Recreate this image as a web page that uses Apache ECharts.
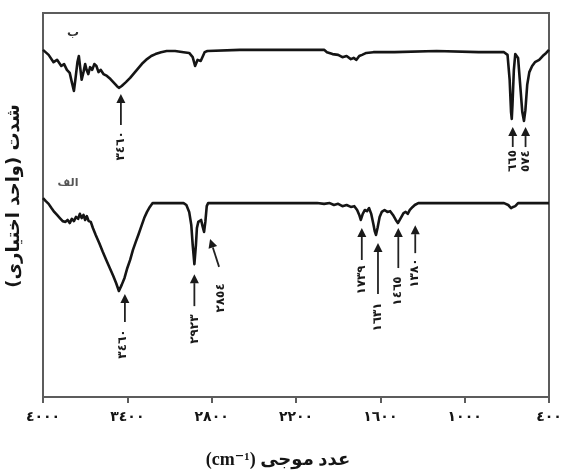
<!DOCTYPE html>
<html>
<head>
<meta charset="utf-8">
<script src="https://cdn.jsdelivr.net/npm/echarts@6/dist/echarts.min.js"></script>
<style>
  html, body { margin: 0; padding: 0; background: #ffffff; }
  #chart { width: 568px; height: 473px; }
</style>
</head>
<body>
<div id="chart"></div>
<script>
// FTIR spectra: trace "ب" (upper) and trace "الف" (lower), wavenumber axis reversed.

// Trace ب — wavenumber (cm-1) and intensity (arbitrary units)
const wnB = [4000, 3960, 3925, 3900, 3870, 3850, 3830, 3810, 3795, 3780, 3770, 3755, 3745, 3735, 3725, 3712,
  3700, 3690, 3678, 3665, 3650, 3635, 3620, 3605, 3590, 3570, 3545, 3520, 3495, 3475, 3460, 3440, 3410, 3380,
  3350, 3320, 3290, 3260, 3230, 3200, 3160, 3120, 3060, 3000, 2960, 2935, 2918, 2910, 2900, 2890, 2878, 2865,
  2850, 2830, 2600, 2000, 1980, 1940, 1900, 1870, 1840, 1810, 1790, 1770, 1750, 1730, 1700, 1650, 1500, 1200,
  900, 740, 720, 695, 680, 670, 665, 660, 650, 640, 632, 620, 605, 590, 578, 574, 568, 555, 540, 520, 500, 470,
  445, 420, 400];
const valB = [90.4, 89.1, 87.2, 87.8, 86.2, 86.7, 85.2, 84.4, 82.0, 79.7, 82.6, 87.2, 88.8, 85.7, 82.6, 84.6,
  86.7, 85.2, 84.1, 85.9, 85.2, 86.7, 86.2, 84.6, 85.2, 84.1, 83.6, 82.8, 81.8, 81.0, 80.5, 81.0, 82.0, 83.1,
  84.4, 85.7, 87.0, 88.0, 88.8, 89.3, 89.8, 90.1, 90.1, 89.8, 89.6, 88.5, 86.2, 85.9, 87.8, 88.3, 87.5, 88.0,
  89.8, 90.1, 90.4, 90.4, 89.8, 89.3, 89.1, 88.5, 88.8, 88.0, 88.3, 87.8, 88.8, 89.1, 89.6, 89.8, 89.8, 90.1,
  89.8, 89.8, 89.8, 89.1, 82.6, 74.2, 72.4, 76.0, 85.2, 89.3, 89.6, 88.3, 81.3, 74.2, 71.9, 71.6, 74.7, 81.3,
  84.6, 86.2, 87.2, 87.8, 88.8, 89.6, 90.4];

// Trace الف — wavenumber (cm-1) and intensity (arbitrary units)
const wnA = [4000, 3980, 3960, 3940, 3920, 3900, 3880, 3860, 3840, 3825, 3810, 3795, 3780, 3765, 3750, 3738,
  3725, 3712, 3700, 3688, 3675, 3660, 3645, 3625, 3600, 3575, 3550, 3525, 3500, 3480, 3460, 3440, 3420, 3400,
  3380, 3360, 3340, 3320, 3300, 3280, 3260, 3240, 3220, 3000, 2980, 2960, 2945, 2935, 2923, 2912, 2905, 2895,
  2885, 2875, 2865, 2854, 2845, 2835, 2825, 2500, 2050, 2000, 1960, 1930, 1900, 1870, 1840, 1810, 1785, 1765,
  1750, 1739, 1725, 1710, 1695, 1680, 1665, 1650, 1640, 1631, 1620, 1605, 1590, 1570, 1550, 1530, 1510, 1490,
  1475, 1465, 1450, 1435, 1420, 1405, 1390, 1380, 1370, 1355, 1330, 1000, 720, 690, 670, 655, 640, 620, 400];
const valA = [51.8, 51.0, 50.3, 49.2, 48.2, 47.4, 46.6, 45.8, 45.6, 46.1, 45.3, 46.4, 45.8, 46.9, 46.4, 47.7,
  46.6, 47.4, 46.1, 47.1, 45.8, 45.6, 44.0, 42.2, 40.1, 37.8, 35.7, 33.6, 31.5, 29.7, 27.6, 29.2, 31.0, 33.6,
  35.7, 38.3, 40.4, 42.4, 44.5, 46.6, 48.2, 49.5, 50.5, 50.5, 50.0, 48.2, 44.8, 39.6, 34.6, 39.6, 44.0, 45.6,
  45.1, 46.1, 44.5, 43.0, 45.6, 49.7, 50.5, 50.5, 50.5, 50.3, 50.5, 50.0, 50.3, 49.7, 50.0, 49.5, 49.7, 48.7,
  47.4, 46.1, 47.7, 48.7, 48.4, 49.2, 47.7, 45.1, 43.2, 42.2, 44.0, 46.9, 48.2, 48.7, 48.2, 48.4, 47.4, 46.1,
  45.3, 45.3, 46.9, 47.9, 48.2, 47.7, 48.7, 48.4, 49.5, 50.0, 50.5, 50.5, 50.5, 50.0, 49.2, 49.5, 49.7, 50.5, 50.5];

// Axis ticks and marked bands (cm-1)
const xTicks = [4000, 3400, 2800, 2200, 1600, 1000, 400];
const peaksB = [3460, 665, 574];
const peaksA = [3460, 2923, 2854, 1739, 1631, 1465, 1380];

// Arrow geometry per marked band (pixels): tip offset, shaft length, tilt, label offset
const arrowLayoutB = [
  { dx: 2, gap: 6, len: 31, tilt: 0, lx: 0, lab: 21 },
  { dx: 1, gap: 8, len: 20, tilt: 0, lx: 0, lab: 14 },
  { dx: 1, gap: 5, len: 20, tilt: 0, lx: 0, lab: 14 }
];
const arrowLayoutA = [
  { dx: 6, gap: 3, len: 28, tilt: 0, lx: -2, lab: 22 },
  { dx: 0, gap: 10, len: 32, tilt: 0, lx: 0, lab: 23 },
  { dx: 6, gap: 7, len: 28, tilt: 9, lx: 2, lab: 31 },
  { dx: 1, gap: 8, len: 32, tilt: 0, lx: 0, lab: 20 },
  { dx: 2, gap: 8, len: 51, tilt: 0, lx: 0, lab: 23 },
  { dx: -1, gap: 5, len: 40, tilt: 0, lx: 0, lab: 23 },
  { dx: 4, gap: 14, len: 28, tilt: 0, lx: 0, lab: 20 }
];

const DIGITS = '٠١٢٣٤٥٦٧٨٩';
const toArabicDigits = v => String(v).replace(/\d/g, d => DIGITS[+d]);
const pairs = (xs, ys) => xs.map((x, i) => [x, ys[i]]);

const ARABIC_FONT = "'DejaVu Sans', sans-serif";
const TITLE_FONT = "'Liberation Serif', 'DejaVu Sans', serif";
const INK = '#151515';

const chart = echarts.init(document.getElementById('chart'), null, { renderer: 'canvas' });

chart.setOption({
  animation: false,
  backgroundColor: '#ffffff',
  grid: {
    show: true, left: 43, right: 19, top: 13, bottom: 76,
    borderColor: '#5c5c5c', borderWidth: 2, backgroundColor: 'transparent'
  },
  xAxis: {
    type: 'value', min: 400, max: 4000, inverse: true,
    axisLine: { show: false },
    splitLine: { show: false },
    axisTick: {
      show: true, inside: false, length: 6, customValues: xTicks,
      lineStyle: { color: '#5c5c5c', width: 2 }
    },
    axisLabel: {
      customValues: xTicks, margin: 13,
      formatter: v => toArabicDigits(v),
      fontSize: 14, fontWeight: 'bold', color: INK, fontFamily: ARABIC_FONT
    }
  },
  yAxis: { type: 'value', min: 0, max: 100, show: false },
  series: [
    {
      name: 'ب', type: 'line', data: pairs(wnB, valB), showSymbol: false,
      lineStyle: { color: INK, width: 2.6, join: 'round' }
    },
    {
      name: 'الف', type: 'line', data: pairs(wnA, valA), showSymbol: false,
      lineStyle: { color: INK, width: 2.6, join: 'round' }
    }
  ]
});

// Arrow with rotated wavenumber label under each marked band
function bandArrow(seriesIndex, wn, vals, wns, L) {
  const val = vals[wns.indexOf(wn)];
  const p = chart.convertToPixel({ seriesIndex }, [wn, val]);
  const tip = [p[0] + L.dx, p[1] + L.gap];
  const tail = [tip[0] + L.tilt, tip[1] + L.len];
  const len = Math.hypot(tail[0] - tip[0], tail[1] - tip[1]);
  const d = [(tail[0] - tip[0]) / len, (tail[1] - tip[1]) / len];
  const n = [-d[1], d[0]];
  const hl = 9, hw = 9;
  const base = [tip[0] + d[0] * hl, tip[1] + d[1] * hl];
  return [
    {
      type: 'line', silent: true,
      shape: { x1: base[0], y1: base[1], x2: tail[0], y2: tail[1] },
      style: { stroke: '#222', lineWidth: 1.8 }
    },
    {
      type: 'polygon', silent: true,
      shape: { points: [tip, [base[0] + n[0] * hw / 2, base[1] + n[1] * hw / 2], [base[0] - n[0] * hw / 2, base[1] - n[1] * hw / 2]] },
      style: { fill: '#1a1a1a' }
    },
    {
      type: 'text', silent: true,
      x: tail[0] + L.lx, y: tail[1] + L.lab, rotation: Math.PI / 2,
      style: {
        text: toArabicDigits(wn), x: 0, y: 0, align: 'center', verticalAlign: 'middle',
        font: "bold 12px " + ARABIC_FONT, fill: '#1a1a1a'
      }
    }
  ];
}

const graphics = [];
peaksB.forEach((wn, i) => graphics.push(...bandArrow(0, wn, valB, wnB, arrowLayoutB[i])));
peaksA.forEach((wn, i) => graphics.push(...bandArrow(1, wn, valA, wnA, arrowLayoutA[i])));

// Trace names
graphics.push({
  type: 'text', silent: true, x: 73, y: 33,
  style: { text: 'ب', align: 'center', verticalAlign: 'middle', font: "bold 12px " + ARABIC_FONT, fill: '#333' }
});
graphics.push({
  type: 'text', silent: true, x: 68, y: 183,
  style: { text: 'الف', align: 'center', verticalAlign: 'middle', font: "bold 11px " + ARABIC_FONT, fill: '#555' }
});

// Axis titles
graphics.push({
  type: 'text', silent: true, x: 14, y: 196, rotation: Math.PI / 2,
  style: {
    text: '\u200Fشدت (واحد اختیاری)\u200F', x: 0, y: 0, align: 'center', verticalAlign: 'middle',
    font: "bold 18px " + ARABIC_FONT, fill: INK
  }
});
graphics.push({
  type: 'text', silent: true, x: 278, y: 460,
  style: {
    text: '\u202Bعدد موجی (cm⁻¹)\u202C', x: 0, y: 0, align: 'center', verticalAlign: 'middle',
    font: "bold 18px " + TITLE_FONT, fill: INK
  }
});

chart.setOption({ graphic: graphics });
</script>
</body>
</html>
